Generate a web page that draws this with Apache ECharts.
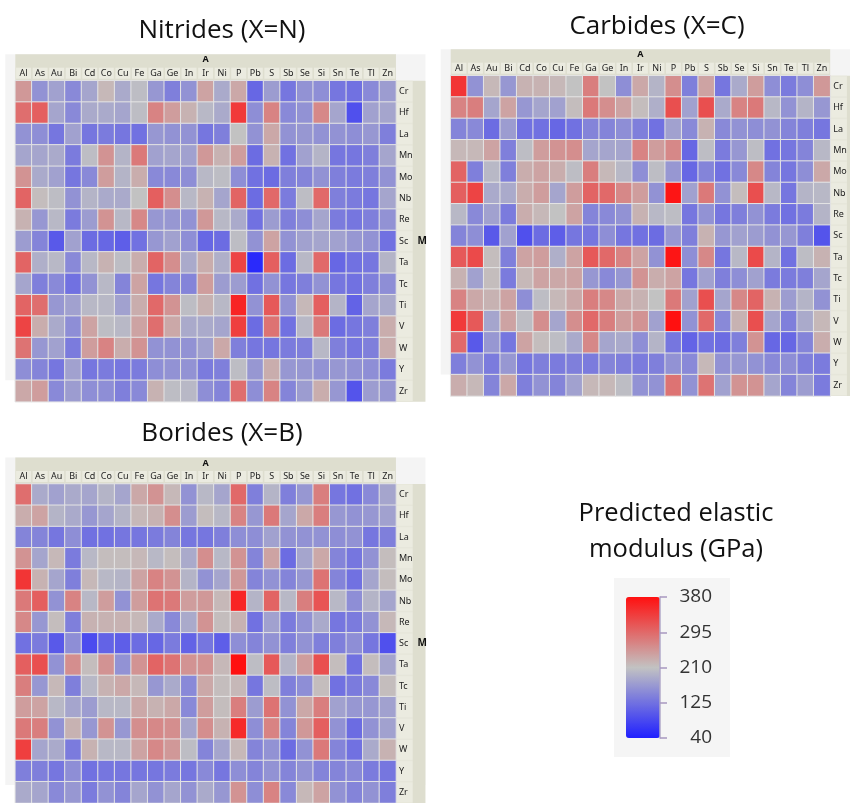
<!DOCTYPE html>
<html>
<head>
<meta charset="utf-8">
<script src="https://cdn.jsdelivr.net/npm/echarts@6/dist/echarts.min.js"></script>
<style>html,body{margin:0;padding:0;background:#fff}#c{width:850px;height:803px}</style>
</head>
<body>
<div id="c"></div>
<script>
// ---- data ----
const cols = ['Al','As','Au','Bi','Cd','Co','Cu','Fe','Ga','Ge','In','Ir','Ni','P','Pb','S','Sb','Se','Si','Sn','Te','Tl','Zn'];
const rows = ['Cr','Hf','La','Mn','Mo','Nb','Re','Sc','Ta','Tc','Ti','V','W','Y','Zr'];
const legendTicks = [40, 125, 210, 295, 380];
const titles = ['Nitrides (X=N)', 'Carbides (X=C)', 'Borides (X=B)'];
const legendTitle = 'Predicted elastic\nmodulus (GPa)';

const nitrides = [
 [250,160,175,150,180,220,185,205,165,140,160,240,185,235,115,170,130,160,155,130,125,150,170],
 [290,305,180,150,185,185,180,205,270,245,225,200,185,340,155,270,150,160,265,180,90,175,180],
 [160,155,130,175,130,135,130,125,165,160,160,130,140,210,160,235,160,165,160,160,155,165,140],
 [180,180,185,135,205,255,195,280,175,180,175,250,225,245,120,225,125,175,195,130,130,140,180],
 [255,185,175,130,150,245,195,230,150,150,155,200,205,155,125,120,140,145,160,140,135,140,160],
 [300,215,205,160,195,185,185,210,305,260,200,225,180,300,120,295,135,205,295,140,135,130,180],
 [225,165,200,135,170,255,200,265,165,165,160,250,200,185,125,170,140,155,180,135,130,140,160],
 [170,145,100,175,120,115,105,125,165,175,155,115,120,205,160,240,160,175,180,175,165,160,125],
 [300,190,200,150,200,225,205,230,300,260,185,230,190,330,50,305,120,200,295,115,125,130,195],
 [180,140,150,125,160,200,145,240,130,145,145,245,170,170,125,160,130,140,160,130,125,140,155],
 [300,290,165,175,200,200,175,230,295,255,205,225,200,360,160,310,160,220,305,195,110,180,185],
 [330,230,185,155,240,205,200,240,290,235,185,185,180,335,120,285,125,200,280,120,130,140,230],
 [285,165,175,135,245,270,230,255,160,160,160,175,235,140,130,130,135,140,200,140,130,140,230],
 [155,145,130,175,130,135,130,135,155,160,160,135,140,205,165,230,165,165,160,165,160,155,135],
 [235,245,150,170,155,155,140,150,225,205,200,155,145,290,155,270,145,170,230,165,95,170,165]
];
const carbides = [
 [345,160,220,165,225,225,220,210,275,210,155,235,195,260,140,240,130,185,245,155,135,155,250],
 [270,275,180,240,165,180,175,215,280,260,240,215,190,320,175,320,185,270,280,200,160,195,165],
 [145,150,120,170,125,125,115,125,145,145,155,140,125,175,150,225,150,160,155,160,145,140,130],
 [220,220,240,140,205,245,255,260,180,180,180,270,245,265,115,205,135,165,205,125,130,145,200],
 [300,140,200,140,230,240,230,205,275,220,200,155,205,165,115,145,125,150,265,145,130,155,235],
 [305,330,185,185,230,245,180,245,300,295,265,245,160,375,175,280,160,215,320,200,130,195,200],
 [200,150,175,135,230,220,210,240,145,150,160,225,200,205,130,160,130,140,160,135,125,135,195],
 [145,155,100,175,90,120,105,130,130,155,130,125,120,165,140,225,165,175,170,160,165,140,95],
 [310,325,215,140,240,245,190,240,310,295,270,240,160,375,155,265,130,200,325,195,125,205,225],
 [225,175,215,135,220,240,235,240,165,150,165,255,230,240,130,175,140,155,175,135,135,140,180],
 [270,235,225,240,155,205,220,235,275,265,235,225,210,280,175,320,180,265,300,225,170,195,160],
 [340,310,180,240,205,260,180,260,295,275,245,255,175,380,160,295,150,225,320,180,140,185,220],
 [295,100,165,130,240,215,205,185,265,180,185,155,195,130,110,125,120,140,255,115,115,145,230],
 [140,160,135,165,130,140,135,140,135,145,140,135,140,160,150,220,160,165,160,150,155,140,135],
 [230,220,145,235,140,160,145,175,220,220,205,160,160,285,160,285,175,255,255,180,145,170,135]
];
const borides = [
 [290,185,175,185,180,195,180,235,255,220,160,200,180,295,140,195,140,165,275,130,125,150,180],
 [230,240,195,185,165,180,195,220,225,260,170,215,200,270,165,280,180,235,275,165,160,165,175],
 [145,145,130,155,125,125,130,130,135,145,130,130,140,155,155,175,160,160,160,155,160,130,140],
 [255,180,220,135,200,215,215,220,200,215,185,260,200,255,145,240,120,180,235,145,130,160,215],
 [345,225,180,140,220,200,195,240,270,255,195,160,180,250,145,160,145,165,285,145,125,180,215],
 [280,305,160,270,200,245,160,245,285,280,245,250,220,360,195,300,200,275,315,200,155,195,180],
 [265,165,215,140,225,225,225,220,185,150,185,255,215,225,125,175,135,160,185,130,135,160,220],
 [125,135,100,155,85,110,105,120,115,135,110,130,105,155,145,160,140,160,140,140,155,130,90],
 [305,320,160,260,215,255,160,255,300,285,255,255,220,380,205,310,195,245,320,215,125,215,180],
 [275,165,220,140,200,225,235,220,165,185,150,235,215,220,130,205,140,155,215,125,135,150,215],
 [245,240,200,180,170,200,200,235,225,235,150,245,215,275,170,285,160,235,275,175,165,165,175],
 [280,275,160,225,165,255,165,260,265,260,180,260,225,355,155,270,145,250,305,160,120,160,175],
 [335,180,185,135,225,200,200,240,265,250,205,145,180,220,145,160,120,160,280,145,125,185,225],
 [140,140,130,155,125,130,130,130,130,135,130,150,130,155,145,160,145,160,145,145,150,135,130],
 [185,180,150,165,135,160,145,180,160,180,160,185,165,255,155,270,150,220,240,160,145,160,140]
];
const datasets = [nitrides, carbides, borides];

// ---- layout (positions / styles only) ----
const layout = [
 {left:15.3, top:80.7, cw:16.55, ch:21.4, tx:217, ty:13, m:true},
 {left:450.7, top:75.7, cw:16.5, ch:21.35, tx:652, ty:9, m:false},
 {left:15.3, top:484, cw:16.55, ch:21.5, tx:217, ty:416, m:true}
];
const lblFont = 'Noto Sans';
const titleFont = 'Open Sans';
const rampColors = ['#2020ff', '#c2c2c2', '#ff1010'];
const LG = {x:626, y:597, w:34, h:141};

const grid = [], xAxis = [], yAxis = [], series = [], graphic = [], title = [];
layout.forEach((L, i) => {
  const W = L.cw * cols.length, H = L.ch * rows.length;
  grid.push({left: L.left, top: L.top, width: W, height: H});
  graphic.push({type:'rect', z:-10, shape:{x:L.left - 10, y:L.top - 26.5, width:W + 39.5, height:H + 5}, style:{fill:'#f4f4f4'}});
  graphic.push({type:'rect', z:-9, shape:{x:L.left, y:L.top - 26.5, width:W, height:26.5}, style:{fill:'#dedecf'}});
  graphic.push({type:'rect', z:-9, shape:{x:L.left + W, y:L.top, width:29.5, height:H}, style:{fill:'#dedecf'}});
  graphic.push({type:'rect', z:-8, shape:{x:L.left + W, y:L.top, width:16.8, height:H}, style:{fill:'#e6e6da'}});
  xAxis.push({
    gridIndex:i, type:'category', data:cols, position:'top',
    axisLine:{show:false}, axisTick:{show:false}, splitLine:{show:false},
    axisLabel:{interval:0, margin:2, fontSize:9, fontFamily:lblFont, color:'#222',
      backgroundColor:'#ebebe0', width:L.cw - 1.6, height:11, lineHeight:11, align:'center'},
    name:'A', nameLocation:'middle', nameGap:21,
    nameTextStyle:{fontWeight:'bold', fontSize:9, fontFamily:lblFont, color:'#111', verticalAlign:'middle'}
  });
  yAxis.push({
    gridIndex:i, type:'category', data:rows, inverse:true, position:'right',
    axisLine:{show:false}, axisTick:{show:false}, splitLine:{show:false},
    axisLabel:{interval:0, margin:1, fontSize:9, fontFamily:lblFont, color:'#222', align:'left',
      backgroundColor:'#ebebe0', width:13.5, height:L.ch - 1.6, lineHeight:L.ch - 1.6, padding:[0,0,0,2]},
    name: L.m ? 'M' : '', nameLocation:'middle', nameGap:22, nameRotate:0,
    nameTextStyle:{fontWeight:'bold', fontSize:10, fontFamily:lblFont, color:'#111', align:'center', verticalAlign:'middle'}
  });
  const d = [];
  datasets[i].forEach((row, r) => row.forEach((v, c) => d.push([c, r, v])));
  series.push({type:'heatmap', xAxisIndex:i, yAxisIndex:i, data:d,
    itemStyle:{borderColor:'#e4e4e4', borderWidth:1}, emphasis:{disabled:true}});
  title.push({text:titles[i], left:L.tx, top:L.ty, textAlign:'center',
    textStyle:{fontFamily:titleFont, fontSize:26, fontWeight:'normal', color:'#111'}});
});

// legend
title.push({text:legendTitle, left:671, top:491, textAlign:'center',
  textStyle:{fontFamily:titleFont, fontSize:25.5, fontWeight:'normal', color:'#111', lineHeight:36}});
graphic.push({type:'rect', z:-10, shape:{x:614, y:578, width:116, height:179}, style:{fill:'#f5f5f5'}});
grid.push({left:LG.x, top:LG.y, width:LG.w, height:LG.h});
xAxis.push({gridIndex:3, type:'value', show:false, min:0, max:1});
yAxis.push({gridIndex:3, type:'value', position:'right', min:legendTicks[0], max:legendTicks[legendTicks.length-1],
  interval:legendTicks[1] - legendTicks[0], z:5,
  axisLine:{show:true, onZero:false, lineStyle:{color:'#b0a8c8', width:1.5}}, splitLine:{show:false},
  axisTick:{show:true, inside:false, length:7, lineStyle:{color:'#a898c0', width:1.5}},
  axisLabel:{fontSize:19, fontFamily:titleFont, color:'#333', align:'right', margin:52}
});

const chart = echarts.init(document.getElementById('c'), null, {renderer:'canvas'});
chart.setOption({
  animation:false,
  title, grid, xAxis, yAxis, series, graphic,
  visualMap:{type:'continuous', min:legendTicks[0], max:legendTicks[legendTicks.length-1],
    calculable:false, orient:'vertical', left:LG.x, top:LG.y, itemWidth:LG.w, itemHeight:LG.h, padding:0,
    inRange:{color:rampColors}, text:null, seriesIndex:[0,1,2]}
});
</script>
</body>
</html>
